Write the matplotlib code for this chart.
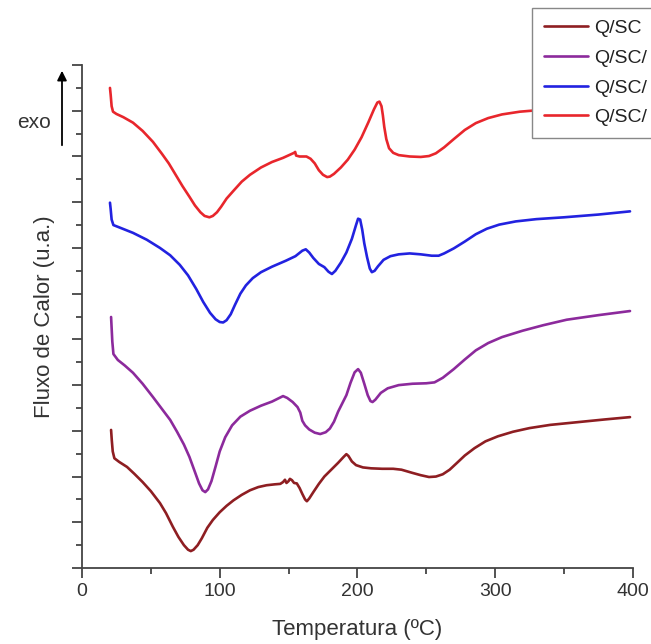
import numpy as np
import matplotlib.pyplot as plt
from matplotlib.patches import FancyArrowPatch
from matplotlib.ticker import MultipleLocator

plt.rcParams['font.family'] = ['Liberation Sans', 'DejaVu Sans']

# DSC curves: temperature (C) and heat flow (a.u., offset)
t_qsc = [21.1, 21.6, 22.3, 23.5, 27, 32.7, 38, 44, 50, 56.6, 61, 66, 70, 74, 77, 79, 81,
         84, 87, 91, 95, 100, 105, 110, 116, 122, 128, 134, 140, 144, 146, 147.4, 148.5,
         150, 151, 152.5, 154, 156, 158, 160, 162, 163.3, 165, 168, 172, 176, 181, 186,
         190, 192, 193.5, 196, 199, 204, 210, 218, 226, 232, 240, 246, 252, 257, 262,
         267, 272, 278, 285, 293, 302, 313, 325, 340, 360, 380, 398]
f_qsc = [3.02, 2.80, 2.55, 2.40, 2.32, 2.21, 2.06, 1.88, 1.68, 1.42, 1.20, 0.90, 0.68,
         0.50, 0.40, 0.37, 0.40, 0.50, 0.65, 0.88, 1.05, 1.22, 1.36, 1.48, 1.60, 1.70,
         1.77, 1.81, 1.83, 1.84, 1.88, 1.93, 1.86, 1.90, 1.95, 1.92, 1.86, 1.85, 1.75,
         1.62, 1.50, 1.46, 1.52, 1.66, 1.84, 2.00, 2.15, 2.30, 2.43, 2.49, 2.45, 2.33,
         2.25, 2.20, 2.18, 2.17, 2.17, 2.15, 2.08, 2.03, 1.99, 2.00, 2.05, 2.15, 2.29,
         2.46, 2.62, 2.77, 2.88, 2.98, 3.06, 3.13, 3.19, 3.25, 3.30]

t_qsc2 = [21.1, 21.5, 22.0, 22.8, 26, 31, 37, 44, 51.5, 58, 64, 69, 74, 78, 82, 85, 87.5,
          89.5, 91.5, 94, 97, 100, 104, 109, 115, 122, 130, 138, 144, 146, 149, 153, 156.5,
          158.5, 160, 162, 165, 169, 173, 177, 180, 183, 186, 189, 192, 195, 198, 200.5,
          202.5, 205, 207.5, 209.5, 211, 213, 217, 222, 230, 240, 250, 256, 262, 270, 278,
          286, 295, 305, 320, 335, 352, 375, 398]
f_qsc2 = [5.49, 5.25, 4.95, 4.68, 4.55, 4.43, 4.27, 4.03, 3.74, 3.48, 3.24, 2.98, 2.70,
          2.43, 2.10, 1.85, 1.70, 1.66, 1.72, 1.90, 2.22, 2.55, 2.86, 3.12, 3.31, 3.44,
          3.55, 3.64, 3.73, 3.76, 3.72, 3.63, 3.52, 3.40, 3.22, 3.12, 3.03, 2.96, 2.93,
          2.97, 3.05, 3.20, 3.42, 3.60, 3.78, 4.05, 4.28, 4.35, 4.27, 4.03, 3.78, 3.65,
          3.63, 3.68, 3.83, 3.93, 4.00, 4.03, 4.04, 4.06, 4.16, 4.35, 4.56, 4.76, 4.92,
          5.05, 5.19, 5.31, 5.43, 5.53, 5.62]

t_qsc3 = [20.3, 20.8, 21.5, 22.8, 27, 37, 47, 56.6, 64, 71, 77, 83, 88, 93, 97, 100, 102.5,
          105, 108, 111, 115, 119, 124, 130, 138, 148, 155, 160, 162.5, 165, 168, 172,
          176, 179, 181.5, 184, 188, 192, 196, 199, 200.5, 202, 203.5, 205, 207, 209,
          210.5, 212.5, 215, 219, 224, 230, 238, 246, 254, 259, 263, 270, 278, 286, 294,
          303, 315, 330, 350, 375, 398]
f_qsc3 = [7.99, 7.85, 7.62, 7.50, 7.45, 7.33, 7.18, 7.00, 6.84, 6.63, 6.40, 6.10, 5.82,
          5.58, 5.44, 5.38, 5.37, 5.42, 5.55, 5.75, 6.00, 6.18, 6.34, 6.47, 6.59, 6.72,
          6.82, 6.94, 6.97, 6.90, 6.78, 6.65, 6.58, 6.48, 6.43, 6.50, 6.68, 6.90, 7.20,
          7.50, 7.64, 7.62, 7.40, 7.10, 6.80, 6.55, 6.47, 6.50, 6.60, 6.74, 6.82, 6.86,
          6.88, 6.86, 6.83, 6.83, 6.88, 6.99, 7.14, 7.30, 7.42, 7.51, 7.58, 7.63, 7.67,
          7.73, 7.80]

t_qsc4 = [20.3, 20.8, 21.5, 22.5, 25, 30, 37, 44, 51.5, 58, 63, 68, 73, 78, 82, 86, 89,
          92.5, 95, 98, 101, 105, 110, 116, 122, 130, 138, 146, 154, 154.8, 155.5, 158,
          163, 166, 169, 172, 175, 178, 180, 183, 188, 193, 198, 203, 208, 212, 214.5,
          216, 217.5, 218.5, 219.5, 221, 223, 226, 230, 238, 246, 252, 257, 263, 270, 278,
          286, 295, 305, 318, 330, 350, 375, 400]
f_qsc4 = [10.50, 10.35, 10.10, 9.98, 9.93, 9.86, 9.74, 9.56, 9.32, 9.06, 8.85, 8.60,
          8.35, 8.12, 7.93, 7.78, 7.70, 7.67, 7.70, 7.78, 7.90, 8.08, 8.25, 8.45, 8.60,
          8.76, 8.88, 8.97, 9.08, 9.10, 9.02, 9.00, 9.00, 8.95, 8.85, 8.70, 8.60, 8.55,
          8.56, 8.62, 8.76, 8.93, 9.15, 9.42, 9.75, 10.03, 10.18, 10.20, 10.10, 9.90,
          9.65, 9.38, 9.18, 9.08, 9.03, 9.00, 8.99, 9.01, 9.07, 9.20, 9.38, 9.58, 9.73,
          9.84, 9.92, 9.98, 10.01, 10.03, 10.05, 10.07]

series = [
    (t_qsc, f_qsc, '#8e1e22', 'Q/SC'),
    (t_qsc2, f_qsc2, '#8c2a9c', 'Q/SC/'),
    (t_qsc3, f_qsc3, '#2222e0', 'Q/SC/'),
    (t_qsc4, f_qsc4, '#e8262c', 'Q/SC/'),
]

fig = plt.figure(figsize=(6.51, 6.44), dpi=100)
ax = fig.add_axes([0.126, 0.118, 0.846, 0.781])

lines = []
for t, f, c, lab in series:
    ln, = ax.plot(t, f, color=c, lw=1.9, label=lab,
                  solid_joinstyle='round', solid_capstyle='round')
    lines.append(ln)

ax.set_xlim(0, 400)
ax.set_ylim(0, 11)
ax.spines['top'].set_visible(False)
ax.spines['right'].set_visible(False)
for s in ['left', 'bottom']:
    ax.spines[s].set_color('#444444')
    ax.spines[s].set_linewidth(1.3)

ax.xaxis.set_major_locator(MultipleLocator(100))
ax.xaxis.set_minor_locator(MultipleLocator(50))
ax.yaxis.set_major_locator(MultipleLocator(1))
ax.yaxis.set_minor_locator(MultipleLocator(0.5))
ax.tick_params(which='major', length=7, width=1.3, color='#444444', labelsize=14,
               labelcolor='#333333')
ax.tick_params(which='minor', length=4, width=1.3, color='#444444')
ax.tick_params(axis='y', labelleft=False)

ax.set_xlabel('Temperatura (ºC)', fontsize=16, color='#333333', labelpad=14)
ax.set_ylabel('Fluxo de Calor (u.a.)', fontsize=16, color='#333333', labelpad=12)

fig.legend(handles=lines, loc='upper left', bbox_to_anchor=(532 / 651, 1 - 8 / 644),
           borderaxespad=0, fontsize=14, frameon=True, fancybox=False,
           framealpha=1, edgecolor='#888888', handlelength=2.3, handletextpad=0.3,
           labelspacing=0.62, borderpad=0.6, labelcolor='#222222')

# exo arrow
fig.patches.append(FancyArrowPatch(
    (62 / 651, 1 - 148 / 644), (62 / 651, 1 - 68 / 644), transform=fig.transFigure,
    arrowstyle='-|>', mutation_scale=14, color='black', lw=1.3))
fig.text(34 / 651, 1 - 123 / 644, 'exo', fontsize=15, ha='center', va='center',
         color='#333333')

fig.savefig('out.png', dpi=100)
